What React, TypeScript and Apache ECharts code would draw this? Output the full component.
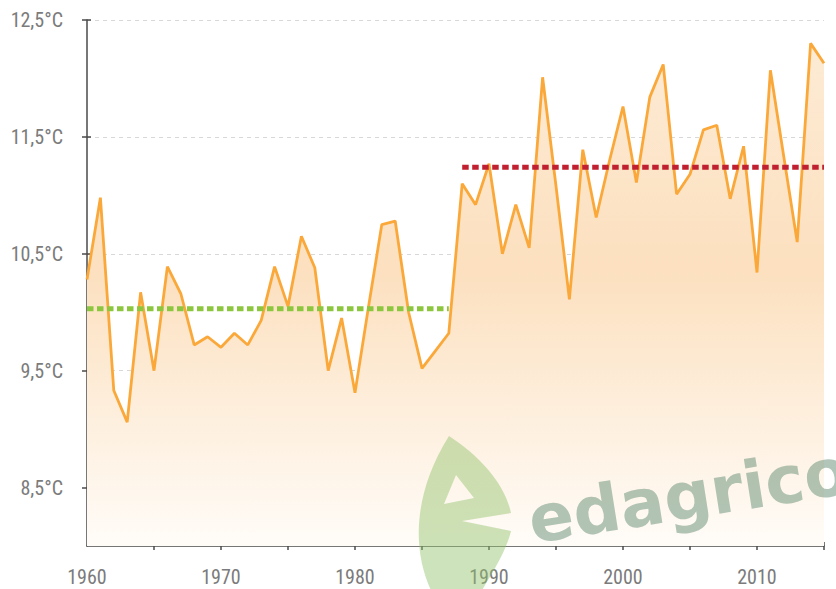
import React, { useEffect, useRef } from "react";
import * as echarts from "echarts";

const years: number[] = [
  1960, 1961, 1962, 1963, 1964, 1965, 1966, 1967, 1968, 1969,
  1970, 1971, 1972, 1973, 1974, 1975, 1976, 1977, 1978, 1979,
  1980, 1981, 1982, 1983, 1984, 1985, 1986, 1987, 1988, 1989,
  1990, 1991, 1992, 1993, 1994, 1995, 1996, 1997, 1998, 1999,
  2000, 2001, 2002, 2003, 2004, 2005, 2006, 2007, 2008, 2009,
  2010, 2011, 2012, 2013, 2014, 2015,
];

const temperatures: number[] = [
  10.28, 10.98, 9.33, 9.06, 10.17, 9.5, 10.39, 10.16, 9.72, 9.79,
  9.7, 9.82, 9.72, 9.93, 10.39, 10.05, 10.65, 10.38, 9.5, 9.95,
  9.31, 10.04, 10.75, 10.78, 10.0, 9.52, 9.67, 9.82, 11.1, 10.92,
  11.27, 10.5, 10.92, 10.55, 12.01, 11.08, 10.11, 11.39, 10.81, 11.3,
  11.76, 11.11, 11.84, 12.12, 11.01, 11.18, 11.56, 11.6, 10.97, 11.42,
  10.34, 12.07, 11.33, 10.6, 12.3, 12.13,
];

const meanPeriod1Years: number[] = [1960, 1987];
const meanPeriod1Value = 10.03;
const meanPeriod2Years: number[] = [1988, 2015];
const meanPeriod2Value = 11.24;

const yTickValues: number[] = [8.5, 9.5, 10.5, 11.5, 12.5];
const xTickValues: number[] = [1965, 1970, 1975, 1980, 1985, 1990, 1995, 2000, 2005, 2010, 2015];
const xLabelValues: number[] = [1960, 1970, 1980, 1990, 2000, 2010];

const LEAF_E =
  "M449 436 C480 456 505 484 511 513 L462 521 L511 531 C506 552 493 572 476 600 L436 600 C413 560 409 500 449 436 Z " +
  "M456 475 L444 504 L474 498 Z";

let registered = false;

export default function App() {
  const ref = useRef<HTMLDivElement>(null);

  useEffect(() => {
    if (!ref.current) return;
    if (!registered) {
      echarts.graphic.registerShape("leafE", echarts.graphic.extendPath(LEAF_E, {}) as any);
      registered = true;
    }
    const chart = echarts.init(ref.current, undefined, { renderer: "svg" });
    const font = "'Liberation Sans Narrow', 'Roboto Condensed', 'DejaVu Sans Condensed', Roboto, sans-serif";
    const labelColor = "#7b7b7b";
    const axisColor = "#4a4a4a";

    const tempData = years.map((y, i) => [y, temperatures[i]]);
    const mean1 = meanPeriod1Years.map((y) => [y, meanPeriod1Value]);
    const mean2 = meanPeriod2Years.map((y) => [y, meanPeriod2Value]);

    chart.setOption({
      animation: false,
      backgroundColor: "#ffffff",
      grid: { left: 87, right: 12, top: 20, bottom: 43 },
      xAxis: [
        {
          type: "value",
          min: 1960,
          max: 2015,
          interval: 5,
          axisLine: { show: true, lineStyle: { color: axisColor, width: 1.5 } },
          axisTick: { show: true, length: 4, customValues: xTickValues, lineStyle: { color: axisColor, width: 1.5 } },
          axisLabel: {
            customValues: xLabelValues,
            color: labelColor,
            fontFamily: font,
            fontSize: 20,
            margin: 21,
            formatter: (v: number) => String(v),
          },
          splitLine: { show: false },
        },
        {
          type: "value",
          min: 1960,
          max: 2015,
          interval: 5,
          position: "bottom",
          axisLine: { show: false },
          axisTick: { show: true, inside: true, length: 4, customValues: xTickValues, lineStyle: { color: axisColor, width: 1.5 } },
          axisLabel: { show: false },
          splitLine: { show: false },
        },
      ],
      yAxis: [
        {
          type: "value",
          min: 8,
          max: 12.5,
          axisLine: { show: true, lineStyle: { color: axisColor, width: 1.5 } },
          axisTick: { show: true, length: 5, customValues: yTickValues, lineStyle: { color: axisColor, width: 1.5 } },
          axisLabel: {
            customValues: yTickValues,
            color: labelColor,
            fontFamily: font,
            fontSize: 20,
            margin: 24,
            formatter: (v: number) => v.toFixed(1).replace(".", ",") + "°C",
          },
          splitLine: { show: true, lineStyle: { color: "#d8d8d8", type: [4, 4], width: 1 } },
        },
        {
          type: "value",
          min: 8,
          max: 12.5,
          position: "left",
          axisLine: { show: false },
          axisTick: { show: true, inside: true, length: 4, customValues: yTickValues, lineStyle: { color: axisColor, width: 1.5 } },
          axisLabel: { show: false },
          splitLine: { show: false },
        },
      ],
      series: [
        {
          type: "line",
          data: tempData,
          symbol: "none",
          z: 2,
          lineStyle: { color: "#fba83a", width: 2.8 },
          areaStyle: {
            opacity: 1,
            color: new echarts.graphic.LinearGradient(0, 0, 0, 1, [
              { offset: 0, color: "#fdebd5" },
              { offset: 0.45, color: "#fce0bf" },
              { offset: 1, color: "#fffcf8" },
            ]),
          },
        },
        {
          type: "line",
          data: mean1,
          symbol: "none",
          z: 3,
          lineStyle: { color: "#8cc63e", width: 5, type: [6.5, 3.5], cap: "butt" },
        },
        {
          type: "line",
          data: mean2,
          symbol: "none",
          z: 3,
          lineStyle: { color: "#c0202f", width: 5, type: [6.5, 3.5], cap: "butt" },
        },
      ],
      graphic: {
        elements: [
          {
            type: "leafE",
            x: 0,
            y: 0,
            z: 100,
            silent: true,
            style: { fill: "rgba(145,192,105,0.45)" },
          },
          {
            type: "text",
            x: 529,
            y: 521,
            z: 100,
            silent: true,
            rotation: (9 * Math.PI) / 180,
            style: {
              text: "edagrico",
              fontFamily: "'DejaVu Sans', sans-serif",
              fontWeight: "bold",
              fontSize: 66,
              fill: "rgba(100,142,115,0.5)",
              align: "left",
              verticalAlign: "middle",
            },
          },
        ],
      },
    });
    return () => chart.dispose();
  }, []);

  return (
    <div
      ref={ref}
      style={{ position: "fixed", left: 0, top: 0, width: 836, height: 589 }}
    />
  );
}
